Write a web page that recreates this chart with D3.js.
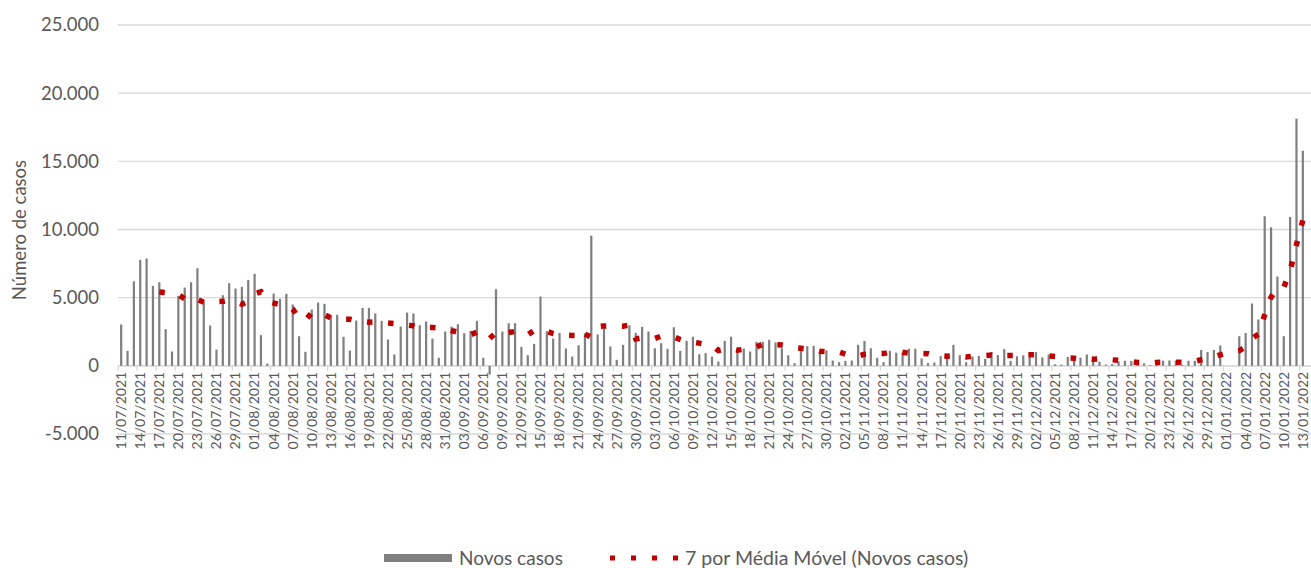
<html lang="pt">

<head>
    <title>Novos casos</title>
    <script src="https://d3js.org/d3.v7.min.js" charset="utf-8"></script>
    <style>
        body { margin: 0; background: #fff; }
        text { font-family: Lato, "Open Sans", sans-serif; fill: #595959; }
    </style>
</head>

<body>
    <script>
        // dados
        var primeiroDia = '11/07/2021', ultimoDia = '13/01/2022';
        var novosCasos = [
            3030, 1100, 6200, 7770, 7870, 5860, 6130, 2690, 1050, 5130,
            5740, 6130, 7160, 4740, 2960, 1190, 5180, 6060, 5670, 5790,
            6300, 6750, 2250, 170, 5300, 4910, 5280, 4500, 2170, 1030,
            4130, 4640, 4550, 3640, 3740, 2130, 1110, 3320, 4250, 4250,
            3840, 3300, 1930, 830, 2880, 3910, 3840, 2980, 3250, 2000,
            590, 2520, 2880, 3050, 2390, 2570, 3300, 590, -640, 5620,
            2520, 3130, 3130, 1390, 780, 1610, 5080, 2540, 2000, 2420,
            1270, 680, 1510, 2390, 9550, 2300, 2740, 1420, 440, 1540,
            2980, 2420, 2860, 2520, 1290, 1660, 1250, 2830, 1100, 1830,
            2130, 850, 930, 680, 320, 1830, 2130, 1320, 1270, 1050,
            1760, 1760, 1910, 1710, 1290, 770, 190, 1440, 1440, 1470,
            900, 1140, 390, 270, 360, 390, 1540, 1830, 1290, 590,
            270, 1100, 960, 960, 1250, 1250, 540, 200, 240, 710,
            760, 1540, 780, 270, 690, 730, 510, 1010, 790, 1230,
            360, 700, 770, 800, 1010, 620, 830, 110, 90, 650,
            610, 600, 830, 520, 300, 90, 130, 320, 370, 350,
            130, 180, 50, 370, 380, 390, 390, 70, 370, 370,
            1170, 1010, 1170, 1490, null, null, 2170, 2410, 4570, 3400,
            10970, 10160, 6550, 2170, 10920, 18130, 15780
        ];
        var yTicks = [-5000, 0, 5000, 10000, 15000, 20000, 25000];
        var periodoMedia = 7;

        var parseDia = d3.timeParse('%d/%m/%Y'), fmtDia = d3.timeFormat('%d/%m/%Y');
        var dias = d3.timeDay.range(parseDia(primeiroDia), d3.timeDay.offset(parseDia(ultimoDia), 1)).map(fmtDia);

        // media movel (linha de tendencia do Excel, ignora dias vazios)
        var media = [];
        var ultimos = [];
        novosCasos.forEach(function (v, i) {
            if (v === null) return;
            ultimos.push(v);
            if (ultimos.length > periodoMedia) ultimos.shift();
            if (ultimos.length === periodoMedia) media.push({ i: i, v: d3.mean(ultimos) });
        });

        // canvas
        var width = 1311, height = 568;
        var svg = d3.select('body').append('svg')
            .attr('width', width).attr('height', height);

        var x = d3.scaleBand().domain(d3.range(dias.length)).range([118, 1306]).padding(0);
        var y = d3.scaleLinear().domain([-5000, 25000]).range([434, 25]);
        var fmtNum = function (d) { return d3.format(',')(d).replace(/,/g, '.').replace('\u2212', '-'); };

        // grelha
        svg.append('g').selectAll('line').data(yTicks).enter().append('line')
            .attr('x1', x.range()[0]).attr('x2', 1311)
            .attr('y1', function (d) { return y(d); }).attr('y2', function (d) { return y(d); })
            .attr('stroke', '#d9d9d9').attr('stroke-width', 1.3);

        svg.append('g').selectAll('text').data(yTicks).enter().append('text')
            .attr('x', 99).attr('y', function (d) { return y(d); }).attr('dy', '0.35em')
            .attr('text-anchor', 'end').style('font-size', '18.5px')
            .text(fmtNum);

        // eixo x no zero
        var xAxis = d3.axisBottom(x)
            .tickValues(d3.range(0, dias.length, 3))
            .tickFormat(function (i) { return dias[i]; })
            .tickSize(0).tickPadding(6);
        var gx = svg.append('g').attr('transform', 'translate(0,' + y(0) + ')').call(xAxis);
        gx.select('.domain').remove();
        gx.append('line').attr('x1', x.range()[0]).attr('x2', 1311)
            .attr('stroke', '#d9d9d9').attr('stroke-width', 1.3);
        gx.selectAll('.tick text')
            .attr('transform', 'rotate(-90)')
            .attr('x', -6).attr('y', 0).attr('dy', '0.35em')
            .attr('text-anchor', 'end')
            .style('font-size', '14px').style('font-family', 'Lato').attr('fill', '#595959');
        gx.append('g').selectAll('line').data(d3.range(0, dias.length + 1, 3)).enter().append('line')
            .attr('x1', function (i) { return x.range()[0] + i * x.step(); })
            .attr('x2', function (i) { return x.range()[0] + i * x.step(); })
            .attr('y1', 0).attr('y2', 5)
            .attr('stroke', '#d9d9d9').attr('stroke-width', 1.3);

        // barras
        var bw = 2.2;
        svg.append('g').selectAll('rect').data(novosCasos.map(function (v, i) { return { i: i, v: v }; })
            .filter(function (d) { return d.v !== null; }))
            .enter().append('rect')
            .attr('x', function (d) { return x(d.i) + x.bandwidth() / 2 - bw / 2; })
            .attr('width', bw)
            .attr('y', function (d) { return y(Math.max(0, d.v)); })
            .attr('height', function (d) { return Math.abs(y(d.v) - y(0)); })
            .attr('fill', '#7f7f7f');

        // media movel
        var line = d3.line()
            .x(function (d) { return x(d.i) + x.bandwidth() / 2; })
            .y(function (d) { return y(d.v); });
        var mm = svg.append('path').datum(media)
            .attr('d', line)
            .attr('fill', 'none').attr('stroke', '#c00000')
            .attr('stroke-width', 5.5);
        // ajustar o tracejado para acabar com um ponto no fim da linha
        var L = mm.node().getTotalLength(), dash = 5.5;
        var n = Math.round((L - dash) / 21), periodo = (L - dash) / n;
        mm.attr('stroke-dasharray', dash + ',' + (periodo - dash));

        // titulo do eixo y
        svg.append('text')
            .attr('transform', 'translate(26,230) rotate(-90)')
            .attr('text-anchor', 'middle').style('font-size', '18.5px')
            .text('Número de casos');

        // legenda
        var leg = svg.append('g');
        leg.append('rect').attr('x', 384).attr('y', 554).attr('width', 68).attr('height', 8).attr('fill', '#7f7f7f');
        leg.append('text').attr('x', 459).attr('y', 558).attr('dy', '0.35em').style('font-size', '19px').text('Novos casos');
        leg.append('line').attr('x1', 610).attr('x2', 678).attr('y1', 558).attr('y2', 558)
            .attr('stroke', '#c00000').attr('stroke-width', 5).attr('stroke-dasharray', '5,16');
        leg.append('text').attr('x', 685).attr('y', 558).attr('dy', '0.35em').style('font-size', '19.5px').text('7 por Média Móvel (Novos casos)');
    </script>
</body>

</html>
